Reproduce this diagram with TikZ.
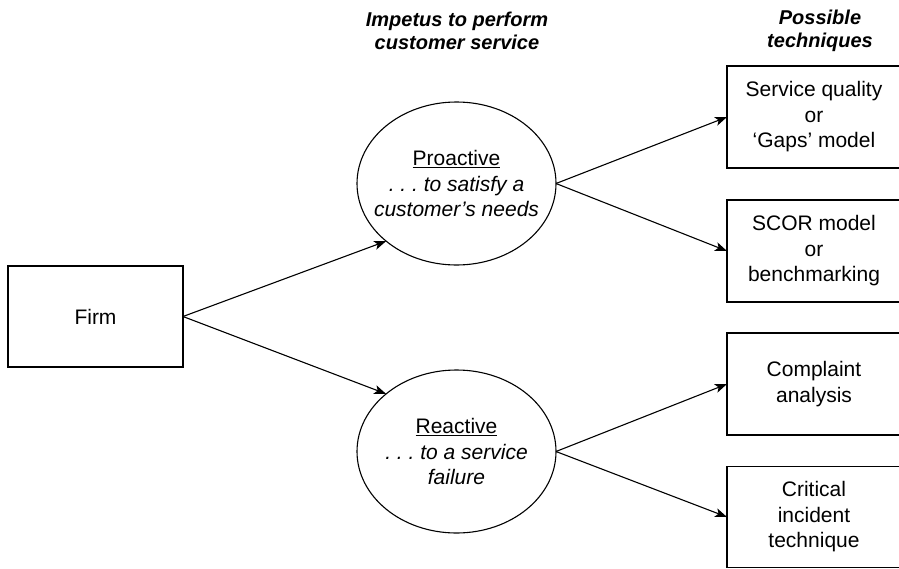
\documentclass[tikz,border=0pt]{standalone}
\usepackage{fontspec}
\setmainfont{Liberation Sans}
\usetikzlibrary{shapes.geometric,arrows.meta}
\frenchspacing
\begin{document}
\begin{tikzpicture}[x=1pt,y=-1pt,
  every node/.style={inner sep=0pt,outer sep=0pt},
  box/.style={draw,line width=1.1pt,rectangle,align=center,font=\fontsize{21}{25.5}\selectfont},
  oval/.style={draw,line width=1.1pt,ellipse,minimum width=199pt,minimum height=163pt},
  ovaltext/.style={align=center,font=\fontsize{21}{25.5}\selectfont},
  head/.style={align=center,font=\fontsize{20}{23.5}\selectfont\bfseries\itshape},
  arr/.style={line width=1.1pt,-{Stealth[length=12pt,width=9pt,inset=3pt]}}]
\useasboundingbox (0,0) rectangle (899,568);
\clip (0,0) rectangle (899,568);
\node[head] (h1) at (457,31) {Impetus to perform\\customer service};
\node[head] (h2) at (820,31) {Possible\\techniques};
\node[box,minimum width=175pt,minimum height=101pt] (firm) at (95.5,316.5) {Firm};
\node[oval] (e1) at (456.5,183.5) {};
\node[ovaltext] (t1) at (e1.center) {\underline{Proactive}\\\textit{. . . to satisfy a}\\\textit{customer’s needs}};
\node[oval] (e2) at (456.5,451.5) {};
\node[ovaltext] (t2) at (e2.center) {\underline{Reactive}\\\textit{. . . to a service}\\\textit{failure}};
\node[box,minimum width=174pt,minimum height=102pt] (b1) at (814,117) {Service quality\\or\\‘Gaps’ model};
\node[box,minimum width=174pt,minimum height=102pt] (b2) at (814,251) {SCOR model\\or\\benchmarking};
\node[box,minimum width=174pt,minimum height=102pt] (b3) at (814,384) {Complaint\\analysis};
\node[box,minimum width=174pt,minimum height=101pt] (b4) at (814,517) {Critical\\incident\\technique};
\draw[arr] (firm.east) -- (e1.south west);
\draw[arr] (firm.east) -- (e2.north west);
\draw[arr] (e1.east) -- (b1.west);
\draw[arr] (e1.east) -- (b2.west);
\draw[arr] (e2.east) -- (b3.west);
\draw[arr] (e2.east) -- (b4.west);
\end{tikzpicture}
\end{document}
